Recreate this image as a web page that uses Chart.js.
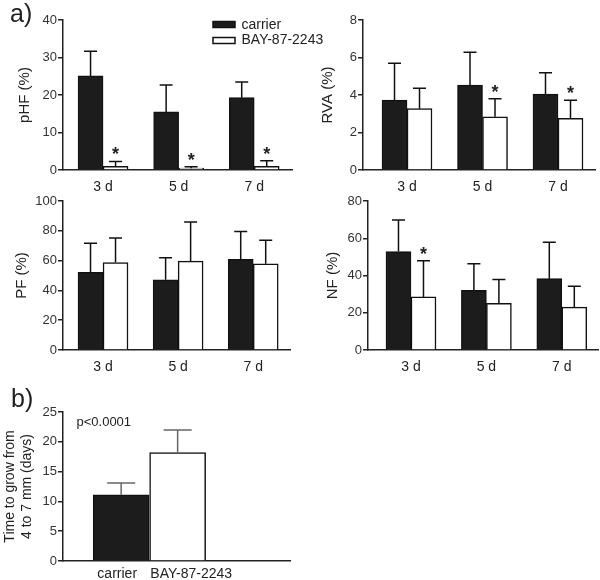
<!DOCTYPE html>
<html><head><meta charset="utf-8">
<script src="https://cdn.jsdelivr.net/npm/chart.js@4.4.1/dist/chart.umd.min.js"></script>
<style>
html,body{margin:0;padding:0;background:#fff}
body{width:600px;height:580px;position:relative;overflow:hidden}
canvas{position:absolute}
</style></head><body>
<canvas id="cPHF"></canvas>
<canvas id="cRVA"></canvas>
<canvas id="cPF"></canvas>
<canvas id="cNF"></canvas>
<canvas id="cB"></canvas>
<script>
// ---------- data ----------
const days = ['3 d', '5 d', '7 d'];
const seriesNames = ['carrier', 'BAY-87-2243'];

const pHF_carrier = [25.1, 15.5, 19.3];
const pHF_carrierErr = [6.6, 7.2, 4.2];
const pHF_bay = [1.0, 0.5, 1.0];
const pHF_bayErr = [1.3, 0.4, 1.5];
const pHF_sig = [true, true, true];
const pHF_ticks = [0, 10, 20, 30, 40];

const RVA_carrier = [3.73, 4.53, 4.05];
const RVA_carrierErr = [1.96, 1.75, 1.14];
const RVA_bay = [3.27, 2.84, 2.76];
const RVA_bayErr = [1.09, 0.96, 0.96];
const RVA_sig = [false, true, true];
const RVA_ticks = [0, 2, 4, 6, 8];

const PF_carrier = [52.2, 47.1, 60.8];
const PF_carrierErr = [19.5, 14.8, 18.8];
const PF_bay = [58.7, 59.6, 57.9];
const PF_bayErr = [16.4, 26.3, 15.7];
const PF_sig = [false, false, false];
const PF_ticks = [0, 20, 40, 60, 80, 100];

const NF_carrier = [52.9, 32.1, 38.3];
const NF_carrierErr = [16.9, 14.2, 19.6];
const NF_bay = [28.5, 25.1, 23.0];
const NF_bayErr = [19.4, 12.8, 11.2];
const NF_sig = [true, false, false];
const NF_ticks = [0, 20, 40, 60, 80];

const growGroups = ['carrier', 'BAY-87-2243'];
const growDays = [11.1, 18.2];
const growErr = [2.0, 3.8];
const grow_ticks = [0, 5, 10, 15, 20, 25];
const growPText = 'p<0.0001';

// ---------- styling ----------
const FONT = '"Liberation Sans", Arial, Helvetica, sans-serif';
const INK = '#222';
const DARK = '#1c1c1c';

function pairSeries(cv, ce, bv, be, sig) {
  return [
    {values: cv, errors: ce, sig: null, fill: DARK},
    {values: bv, errors: be, sig: sig, fill: '#ffffff'}
  ];
}

function makePanel(cfg) {
  const canvas = document.getElementById(cfg.id);
  canvas.width = cfg.w; canvas.height = cfg.h;
  canvas.style.left = cfg.left + 'px'; canvas.style.top = cfg.top + 'px';
  canvas.style.width = cfg.w + 'px'; canvas.style.height = cfg.h + 'px';

  const datasets = cfg.series.map((s, si) => ({
    label: cfg.seriesLabels ? cfg.seriesLabels[si] : '',
    data: s.values.map((v, i) => ({x: i, y: v})),
    backgroundColor: s.fill,
    borderColor: '#111',
    borderWidth: 1.5,
    barThickness: cfg.barW,
    borderSkipped: 'start'
  }));

  const errPlugin = {
    id: 'errBars',
    afterDatasetsDraw(chart) {
      const ctx = chart.ctx, ys = chart.scales.y;
      cfg.series.forEach((s, si) => {
        const meta = chart.getDatasetMeta(si);
        meta.data.forEach((bar, i) => {
          const yTop = ys.getPixelForValue(s.values[i] + s.errors[i]);
          ctx.save();
          ctx.strokeStyle = cfg.errColor;
          ctx.lineWidth = 1.5;
          ctx.beginPath();
          ctx.moveTo(bar.x, bar.y);
          ctx.lineTo(bar.x, yTop);
          ctx.moveTo(bar.x - cfg.cap / 2, yTop);
          ctx.lineTo(bar.x + cfg.cap / 2, yTop);
          ctx.stroke();
          if (s.sig && s.sig[i]) {
            ctx.fillStyle = INK;
            ctx.font = 'bold 18px ' + FONT;
            ctx.textAlign = 'center';
            ctx.textBaseline = 'alphabetic';
            ctx.fillText('*', bar.x, yTop - 1);
          }
          ctx.restore();
        });
      });
    }
  };
  const annotPlugin = {
    id: 'annot',
    afterDraw(chart) { if (cfg.annot) { chart.ctx.save(); cfg.annot(chart.ctx, chart); chart.ctx.restore(); } }
  };

  const yTicks = cfg.yTicks;
  const labelPos = cfg.labelPos || cfg.labels.map((_, i) => i);
  return new Chart(canvas, {
    type: 'bar',
    data: {datasets},
    options: {
      responsive: false, animation: false, devicePixelRatio: 1,
      layout: {padding: {top: cfg.padTop, right: cfg.padRight, left: 0, bottom: 0}},
      plugins: {legend: {display: false}, tooltip: {enabled: false}},
      scales: {
        x: {
          type: 'linear', min: cfg.xMin, max: cfg.xMax, offset: false,
          afterBuildTicks: s => { s.ticks = labelPos.map(p => ({value: p})); },
          afterFit: s => { s.height = cfg.xHeight; },
          ticks: {
            callback: (v, idx) => cfg.labels[idx], autoSkip: false, maxRotation: 0,
            font: {family: FONT, size: 14}, color: INK, padding: cfg.xPad
          },
          grid: {display: false, drawTicks: false},
          border: {display: true, color: INK, width: 1.5}
        },
        y: {
          min: 0, max: yTicks[yTicks.length - 1],
          afterBuildTicks: s => { s.ticks = yTicks.map(v => ({value: v})); },
          afterFit: s => { s.width = cfg.yWidth; },
          ticks: {font: {family: FONT, size: 13}, color: '#333', padding: 1},
          grid: {drawOnChartArea: false, drawTicks: true, tickLength: 5, color: INK, lineWidth: 1.5},
          border: {display: true, color: INK, width: 1.5},
          title: {
            display: true, text: cfg.title, color: INK,
            font: {family: FONT, size: cfg.titleSize, lineHeight: 1.2},
            padding: {top: cfg.titlePad, bottom: 0}
          }
        }
      }
    },
    plugins: [errPlugin, annotPlugin]
  });
}

// panel a: pHF (with legend)
makePanel({
  id: 'cPHF', left: 0, top: 0, w: 340, h: 200,
  padTop: 20, padRight: 48, yWidth: 63, xHeight: 30, xPad: 9,
  xMin: -0.53, xMax: 2.5, barW: 25, cap: 13, errColor: '#111',
  labels: days, yTicks: pHF_ticks, title: 'pHF (%)', titleSize: 15, titlePad: 16,
  series: pairSeries(pHF_carrier, pHF_carrierErr, pHF_bay, pHF_bayErr, pHF_sig),
  seriesLabels: seriesNames,
  annot(ctx) {
    ctx.fillStyle = INK;
    ctx.font = '25px ' + FONT;
    ctx.textBaseline = 'alphabetic';
    ctx.fillText('a)', 10, 22);
    // legend
    ctx.lineWidth = 1.5; ctx.strokeStyle = '#111';
    ctx.fillStyle = DARK; ctx.fillRect(213, 21.5, 22, 6); ctx.strokeRect(213, 21.5, 22, 6);
    ctx.fillStyle = '#fff'; ctx.fillRect(213, 37.5, 22, 6); ctx.strokeRect(213, 37.5, 22, 6);
    ctx.fillStyle = INK; ctx.font = '14px ' + FONT; ctx.textBaseline = 'middle';
    ctx.fillText(seriesNames[0], 241.5, 25);
    ctx.fillText(seriesNames[1], 241.5, 40.5);
  }
});

makePanel({
  id: 'cRVA', left: 300, top: 0, w: 300, h: 200,
  padTop: 20, padRight: 5, yWidth: 63, xHeight: 30, xPad: 9,
  xMin: -0.583, xMax: 2.49, barW: 25, cap: 13, errColor: '#111',
  labels: days, yTicks: RVA_ticks, title: 'RVA (%)', titleSize: 15, titlePad: 19,
  series: pairSeries(RVA_carrier, RVA_carrierErr, RVA_bay, RVA_bayErr, RVA_sig),
  seriesLabels: seriesNames
});

makePanel({
  id: 'cPF', left: 0, top: 190, w: 300, h: 190,
  padTop: 11, padRight: 10, yWidth: 63, xHeight: 30, xPad: 9,
  xMin: -0.533, xMax: 2.49, barW: 25, cap: 13, errColor: '#111',
  labels: days, yTicks: PF_ticks, title: 'PF (%)', titleSize: 15, titlePad: 13,
  series: pairSeries(PF_carrier, PF_carrierErr, PF_bay, PF_bayErr, PF_sig),
  seriesLabels: seriesNames
});

makePanel({
  id: 'cNF', left: 300, top: 190, w: 300, h: 190,
  padTop: 11, padRight: 2, yWidth: 68, xHeight: 30, xPad: 9,
  xMin: -0.57, xMax: 2.48, barW: 25, cap: 13, errColor: '#111',
  labels: days, yTicks: NF_ticks, title: 'NF (%)', titleSize: 15, titlePad: 24,
  series: pairSeries(NF_carrier, NF_carrierErr, NF_bay, NF_bayErr, NF_sig),
  seriesLabels: seriesNames
});

// panel b
makePanel({
  id: 'cB', left: 0, top: 380, w: 300, h: 200,
  padTop: 32, padRight: 10, yWidth: 63, xHeight: 19, xPad: 5,
  xMin: -1.03, xMax: 2.99, barW: 56, cap: 28, errColor: '#666',
  labels: growGroups, labelPos: [-0.07, 1.24], yTicks: grow_ticks,
  title: ['Time to grow from', '4 to 7 mm (days)'], titleSize: 14, titlePad: 2,
  series: [{values: growDays, errors: growErr, sig: null, fill: [DARK, '#ffffff']}],
  seriesLabels: ['days'],
  annot(ctx) {
    ctx.fillStyle = INK;
    ctx.font = '25px ' + FONT;
    ctx.textBaseline = 'alphabetic';
    ctx.fillText('b)', 11, 27);
    ctx.font = '13px ' + FONT;
    ctx.textBaseline = 'middle';
    ctx.fillText(growPText, 76.5, 42);
  }
});
</script>
</body></html>
